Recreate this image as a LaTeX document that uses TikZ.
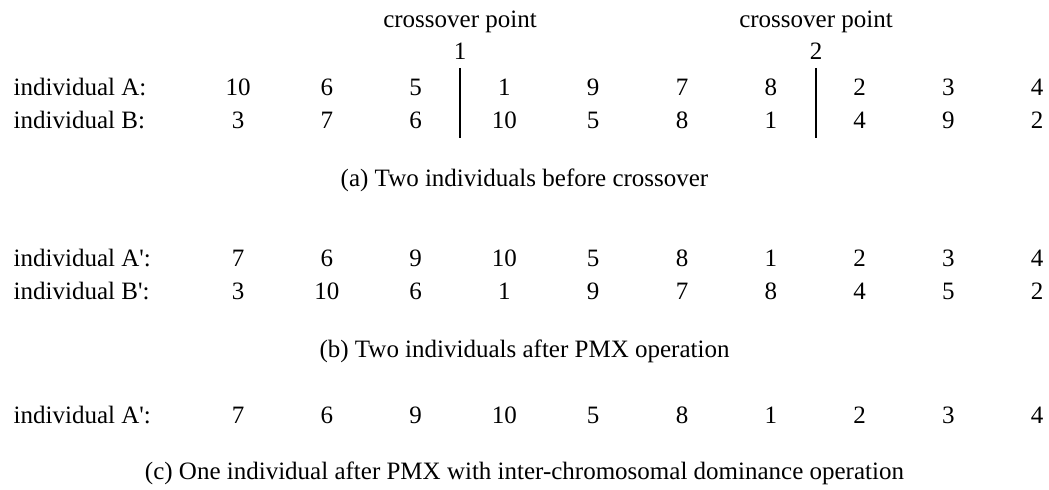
\documentclass[tikz,border=0pt]{standalone}
\usepackage{fontspec}
\setmainfont{Liberation Serif}
\usetikzlibrary{positioning, calc}

\begin{document}
\begin{tikzpicture}[
    x=0.5pt, y=-0.5pt,
    font=\fontsize{12.5}{15}\selectfont,
    line width=0.75pt,
    gene/.style={anchor=base, inner sep=0pt},
    rowlabel/.style={anchor=base west, inner sep=0pt},
    caption/.style={anchor=base, inner sep=0pt},
    cutlabel/.style={anchor=base, inner sep=0pt}
]
\useasboundingbox (0,0) rectangle (1049,490);

% 1) Crossover points above the parents.
\node[cutlabel] (cp1) at (460,28) {crossover point};
\node[cutlabel] (cp1num) at (460,60) {1};
\node[cutlabel] (cp2) at (816,28) {crossover point};
\node[cutlabel] (cp2num) at (816,60) {2};

% 2) Two individuals before crossover.
\node[rowlabel] (labA) at (13,96) {individual A:};
\node[rowlabel] (labB) at (13,129) {individual B:};
\foreach \g [count=\i from 0] in {10,6,5,1,9,7,8,2,3,4} {
    \node[gene] (a\i) at (238+88.8*\i,96) {\g};
}
\foreach \g [count=\i from 0] in {3,7,6,10,5,8,1,4,9,2} {
    \node[gene] (b\i) at (238+88.8*\i,129) {\g};
}

% Cut lines.
\coordinate (cut1top) at (460,68);
\coordinate (cut1bot) at (460,138);
\coordinate (cut2top) at (816,68);
\coordinate (cut2bot) at (816,138);
\draw (cut1top) -- (cut1bot);
\draw (cut2top) -- (cut2bot);

\node[caption] (capa) at (524.5,187) {(a) Two individuals before crossover};

% 3) After PMX.
\node[rowlabel] (labA2) at (13,267) {individual A\textquotesingle:};
\node[rowlabel] (labB2) at (13,300) {individual B\textquotesingle:};
\foreach \g [count=\i from 0] in {7,6,9,10,5,8,1,2,3,4} {
    \node[gene] (aa\i) at (238+88.8*\i,267) {\g};
}
\foreach \g [count=\i from 0] in {3,10,6,1,9,7,8,4,5,2} {
    \node[gene] (bb\i) at (238+88.8*\i,300) {\g};
}

\node[caption] (capb) at (524.5,358) {(b) Two individuals after PMX operation};

% 4) After PMX with dominance.
\node[rowlabel] (labA3) at (13,424) {individual A\textquotesingle:};
\foreach \g [count=\i from 0] in {7,6,9,10,5,8,1,2,3,4} {
    \node[gene] (c\i) at (238+88.8*\i,424) {\g};
}

\node[caption] (capc) at (524.5,480)
   {(c) One individual after PMX with inter-chromosomal dominance operation};

\end{tikzpicture}
\end{document}
